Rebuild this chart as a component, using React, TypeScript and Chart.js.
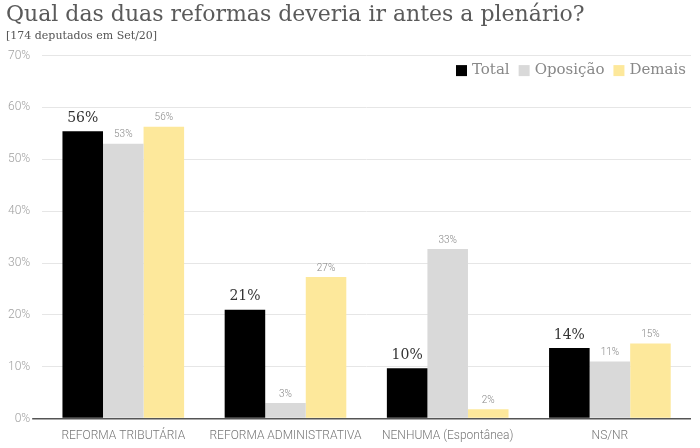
import React, { useEffect, useRef } from "react";
import { Chart, registerables } from "chart.js";

Chart.register(...registerables);

const categories = ["REFORMA TRIBUTÁRIA", "REFORMA ADMINISTRATIVA", "NENHUMA (Espontânea)", "NS/NR"];
const seriesNames = ["Total", "Oposição", "Demais"];
const totalValues = [55.4, 21.0, 9.7, 13.6];
const oposicaoValues = [53.0, 3.0, 32.7, 11.0];
const demaisValues = [56.3, 27.3, 1.8, 14.5];
const totalLabels = ["56%", "21%", "10%", "14%"];
const oposicaoLabels = ["53%", "3%", "33%", "11%"];
const demaisLabels = ["56%", "27%", "2%", "15%"];
const yTicks = [0, 10, 20, 30, 40, 50, 60, 70];

const colors = ["#000000", "#d9d9d9", "#fde89b"];
const SERIF = "'DejaVu Serif', 'Liberation Serif', serif";
const SANS = "'Roboto', 'Liberation Sans', sans-serif";

const labelPlugin = {
  id: "barLabels",
  afterDatasetsDraw(chart: any) {
    const ctx = chart.ctx;
    const labelSets = [totalLabels, oposicaoLabels, demaisLabels];
    chart.data.datasets.forEach((ds: any, i: number) => {
      const meta = chart.getDatasetMeta(i);
      meta.data.forEach((bar: any, j: number) => {
        ctx.save();
        ctx.textAlign = "center";
        ctx.textBaseline = "bottom";
        if (i === 0) {
          ctx.font = `14px ${SERIF}`;
          ctx.fillStyle = "#333333";
          ctx.fillText(labelSets[i][j], bar.x, bar.y - 6);
        } else {
          ctx.font = `300 10px ${SANS}`;
          ctx.fillStyle = "#888888";
          ctx.fillText(labelSets[i][j], bar.x, bar.y - 4);
        }
        ctx.restore();
      });
    });
  },
};

const legendPlugin = {
  id: "insideLegend",
  afterDraw(chart: any) {
    const ctx = chart.ctx;
    const area = chart.chartArea;
    const datasets = chart.data.datasets;
    ctx.save();
    ctx.font = `15px ${SERIF}`;
    ctx.textBaseline = "middle";
    ctx.textAlign = "left";
    const box = 11;
    const gapBoxText = 5;
    const gapItems = 9;
    const widths = datasets.map((d: any) => box + gapBoxText + ctx.measureText(d.label).width);
    const total = widths.reduce((a: number, b: number) => a + b, 0) + gapItems * (datasets.length - 1);
    let x = area.right - 5 - total;
    const y = area.top + 15;
    datasets.forEach((d: any, i: number) => {
      ctx.fillStyle = d.backgroundColor;
      ctx.fillRect(x, y - box / 2, box, box);
      ctx.fillStyle = "#888888";
      ctx.fillText(d.label, x + box + gapBoxText, y);
      x += widths[i] + gapItems;
    });
    ctx.restore();
  },
};

export default function App() {
  const ref = useRef<HTMLCanvasElement | null>(null);
  useEffect(() => {
    if (!ref.current) return;
    const chart = new Chart(ref.current, {
      type: "bar",
      data: {
        labels: categories,
        datasets: [
          { label: seriesNames[0], data: totalValues, backgroundColor: colors[0] },
          { label: seriesNames[1], data: oposicaoValues, backgroundColor: colors[1] },
          { label: seriesNames[2], data: demaisValues, backgroundColor: colors[2] },
        ],
      },
      options: {
        animation: false,
        responsive: false,
        layout: { padding: { left: 6, right: 9, top: 0, bottom: 3 } },
        datasets: { bar: { categoryPercentage: 0.75, barPercentage: 1.0 } } as any,
        plugins: {
          title: {
            display: true,
            text: "Qual das duas reformas deveria ir antes a plenário?",
            align: "start",
            color: "#5a5a5a",
            font: { family: SERIF, size: 22, weight: "normal" },
            padding: { top: 2, bottom: 1 },
          },
          subtitle: {
            display: true,
            text: "[174 deputados em Set/20]",
            align: "start",
            color: "#555555",
            font: { family: SERIF, size: 11, weight: "normal" },
            padding: { top: 0, bottom: 13 },
          },
          legend: { display: false },
          tooltip: { enabled: false },
        },
        scales: {
          x: {
            grid: { display: false },
            border: { display: false },
            ticks: { color: "#777777", font: { family: SANS, size: 12, weight: "300" as any }, padding: 2 },
          },
          y: {
            min: 0,
            max: 70,
            afterBuildTicks: (axis: any) => {
              axis.ticks = yTicks.map((v) => ({ value: v }));
            },
            border: { display: false },
            grid: {
              color: (c: any) => (c.tick && c.tick.value === 0 ? "#555555" : "#e6e6e6"),
              lineWidth: (c: any) => (c.tick && c.tick.value === 0 ? 1.5 : 1),
              drawTicks: true,
              tickLength: 10,
              tickColor: (c: any) => (c.tick && c.tick.value === 0 ? "#555555" : "rgba(0,0,0,0)"),
            },
            ticks: {
              color: "#a0a0a0",
              font: { family: SANS, size: 12, weight: "300" as any },
              padding: 2,
              callback: (v: any) => `${v}%`,
            },
          },
        },
      },
      plugins: [labelPlugin, legendPlugin],
    });
    return () => chart.destroy();
  }, []);
  return (
    <div style={{ position: "fixed", left: 0, top: 0, width: 700, height: 448, background: "#fff" }}>
      <canvas ref={ref} width={700} height={448} />
    </div>
  );
}
